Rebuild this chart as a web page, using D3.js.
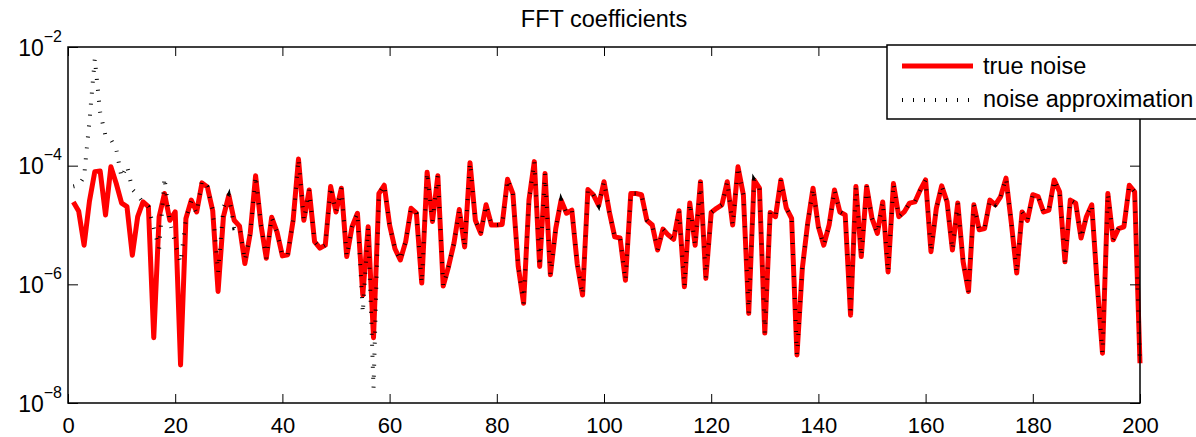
<!DOCTYPE html>
<html><head><meta charset="utf-8">
<script src="https://cdn.jsdelivr.net/npm/d3@7"></script>
<style>
body{margin:0;background:#fff}
svg{display:block}
text{font-family:"Liberation Sans",Arial,Helvetica,sans-serif;fill:#000}
</style>
</head><body>
<svg id="chart" width="1196" height="437"></svg>
<script>
const chartTitle = "FFT coefficients";
const seriesNames = ["true noise", "noise approximation"];
const xTickValues = [0, 20, 40, 60, 80, 100, 120, 140, 160, 180, 200];
const yTickValues = [1e-8, 1e-6, 1e-4, 1e-2];
const yTickExponents = ["\u22128", "\u22126", "\u22124", "\u22122"];

// index 1..200
const trueNoise = [
2.45e-5,1.70e-5,4.57e-6,2.51e-5,7.94e-5,8.13e-5,1.48e-5,9.55e-5,5.0e-5,2.34e-5,
2.04e-5,3.09e-6,1.38e-5,2.45e-5,2.04e-5,1.26e-7,1.38e-5,3.39e-5,1.20e-5,1.66e-5,
4.37e-8,1.29e-5,2.63e-5,1.66e-5,5.13e-5,4.37e-5,1.74e-5,7.59e-7,1.38e-5,3.16e-5,
1.20e-5,9.55e-6,2.24e-6,7.24e-6,6.76e-5,1.0e-5,2.75e-6,1.35e-5,7.59e-6,3.02e-6,
3.16e-6,1.20e-5,1.29e-4,1.20e-5,3.89e-5,5.25e-6,4.07e-6,4.57e-6,4.47e-5,1.66e-5,
4.17e-5,2.95e-6,9.33e-6,1.58e-5,6.61e-7,9.33e-6,1.26e-7,3.39e-5,4.68e-5,1.0e-5,
3.98e-6,2.57e-6,5.25e-6,1.91e-5,1.58e-5,1.05e-6,7.76e-5,1.15e-5,6.76e-5,9.33e-7,
2.0e-6,4.9e-6,1.82e-5,4.27e-6,1.12e-4,1.20e-5,7.24e-6,2.19e-5,1.0e-5,1.0e-5,
1.02e-5,5.89e-5,3.39e-5,2.0e-6,4.79e-7,2.63e-5,1.17e-4,2.0e-6,7.41e-5,1.45e-6,
8.71e-6,2.63e-5,1.58e-5,1.78e-5,2.24e-6,6.61e-7,3.98e-5,3.24e-5,2.14e-5,5.37e-5,
1.66e-5,6.31e-6,6.03e-6,1.17e-6,3.39e-5,3.39e-5,3.24e-5,1.20e-5,1.0e-5,3.80e-6,
8.51e-6,6.76e-6,5.75e-6,1.74e-5,9.12e-7,2.34e-5,4.57e-6,5.37e-5,1.26e-6,1.62e-5,
1.91e-5,2.19e-5,5.37e-5,1.0e-5,9.55e-5,3.24e-5,3.24e-7,5.75e-5,4.17e-5,1.51e-7,
1.62e-5,1.38e-5,5.75e-5,1.95e-5,1.29e-5,6.46e-8,1.86e-6,1.07e-5,4.17e-5,9.33e-6,
4.57e-6,1.0e-5,3.89e-5,1.66e-5,1.48e-5,3.02e-7,4.47e-5,2.95e-6,4.47e-5,1.29e-5,
7.24e-6,2.45e-5,1.62e-6,5.0e-5,1.38e-5,1.66e-5,2.34e-5,2.45e-5,3.89e-5,5.75e-5,
3.55e-6,1.91e-5,4.57e-5,2.45e-5,3.80e-6,2.34e-5,2.40e-6,7.59e-7,2.19e-5,8.32e-6,
8.71e-6,2.63e-5,2.19e-5,3.02e-5,6.17e-5,1.07e-5,1.55e-6,1.66e-5,1.20e-5,3.24e-5,
3.02e-5,1.66e-5,1.78e-5,5.75e-5,3.63e-5,2.40e-6,2.63e-5,2.34e-5,6.03e-6,1.38e-5,
2.19e-5,1.05e-6,6.92e-8,3.39e-5,5.62e-6,8.71e-6,9.33e-6,4.68e-5,3.63e-5,4.68e-8
];

const noiseApprox = [
4.47e-5,4.68e-5,6.46e-5,5.62e-4,6.31e-3,7.94e-4,3.16e-4,2.75e-4,1.91e-4,6.31e-5,
1.0e-4,3.98e-5,3.16e-5,2.40e-5,2.04e-5,8.91e-6,3.98e-6,6.31e-5,1.12e-5,5.01e-6,
2.29e-6,1.29e-5,2.51e-5,1.58e-5,5.62e-5,4.47e-5,1.78e-5,1.58e-6,2.0e-5,3.16e-5,
8.91e-6,9.33e-6,2.51e-6,7.24e-6,6.76e-5,1.0e-5,2.75e-6,1.35e-5,7.59e-6,3.02e-6,
3.16e-6,1.20e-5,1.29e-4,1.20e-5,3.89e-5,5.25e-6,4.07e-6,4.57e-6,4.47e-5,1.66e-5,
4.17e-5,2.95e-6,9.33e-6,1.58e-5,3.31e-7,9.33e-6,1.78e-8,3.39e-5,4.68e-5,1.0e-5,
3.98e-6,2.57e-6,5.25e-6,1.91e-5,1.58e-5,1.05e-6,7.76e-5,1.15e-5,6.76e-5,9.33e-7,
2.0e-6,4.9e-6,1.82e-5,4.27e-6,1.12e-4,1.20e-5,7.24e-6,2.19e-5,1.0e-5,1.0e-5,
1.02e-5,5.89e-5,3.39e-5,2.0e-6,4.79e-7,2.63e-5,1.17e-4,2.0e-6,7.41e-5,1.45e-6,
8.71e-6,2.63e-5,1.58e-5,1.78e-5,2.24e-6,6.61e-7,3.98e-5,3.24e-5,2.14e-5,5.37e-5,
1.66e-5,6.31e-6,6.03e-6,1.17e-6,3.39e-5,3.39e-5,3.24e-5,1.20e-5,1.0e-5,3.80e-6,
8.51e-6,6.76e-6,5.75e-6,1.74e-5,9.12e-7,2.34e-5,4.57e-6,5.37e-5,1.26e-6,1.62e-5,
1.91e-5,2.19e-5,5.37e-5,1.0e-5,9.55e-5,3.24e-5,3.24e-7,5.75e-5,4.17e-5,1.51e-7,
1.62e-5,1.38e-5,5.75e-5,1.95e-5,1.29e-5,6.46e-8,1.86e-6,1.07e-5,4.17e-5,9.33e-6,
4.57e-6,1.0e-5,3.89e-5,1.66e-5,1.48e-5,3.02e-7,4.47e-5,2.95e-6,4.47e-5,1.29e-5,
7.24e-6,2.45e-5,1.62e-6,5.0e-5,1.38e-5,1.66e-5,2.34e-5,2.45e-5,3.89e-5,5.75e-5,
3.55e-6,1.91e-5,4.57e-5,2.45e-5,3.80e-6,2.34e-5,2.40e-6,7.59e-7,2.19e-5,8.32e-6,
8.71e-6,2.63e-5,2.19e-5,3.02e-5,6.17e-5,1.07e-5,1.55e-6,1.66e-5,1.20e-5,3.24e-5,
3.02e-5,1.66e-5,1.78e-5,5.75e-5,3.63e-5,2.40e-6,2.63e-5,2.34e-5,6.03e-6,1.38e-5,
2.19e-5,1.05e-6,6.92e-8,3.39e-5,5.62e-6,8.71e-6,9.33e-6,4.68e-5,3.63e-5,4.68e-8
];

const svg = d3.select("#chart");
const L = 68, R = 1140, T = 47, B = 403;
const x = d3.scaleLinear().domain([0, 200]).range([L, R]);
const y = d3.scaleLog().domain([1e-8, 1e-2]).range([B, T]);

const line = d3.line().x((d, i) => x(i + 1)).y(d => y(d));

svg.append("path").datum(trueNoise).attr("d", line)
  .attr("fill", "none").attr("stroke", "#ff0000").attr("stroke-width", 5)
  .attr("stroke-linejoin", "round");
svg.append("path").datum(noiseApprox).attr("d", line)
  .attr("fill", "none").attr("stroke", "#000").attr("stroke-width", 4)
  .attr("stroke-dasharray", "1,10").attr("stroke-linecap", "butt");

// axes
const axStyle = g => { g.select(".domain").remove(); g.selectAll("line").attr("stroke", "#000").attr("stroke-width", 1); };
svg.append("g").attr("transform", `translate(0,${B})`)
  .call(d3.axisBottom(x).tickValues(xTickValues).tickSizeInner(-9).tickSizeOuter(0).tickPadding(14).tickFormat(d3.format("d")))
  .call(axStyle)
  .call(g => g.selectAll("text").attr("font-size", 22).attr("font-family", "Liberation Sans, Arial, sans-serif").attr("fill", "#000"));
svg.append("g").attr("transform", `translate(0,${T})`)
  .call(d3.axisTop(x).tickValues(xTickValues).tickSizeInner(-9).tickSizeOuter(0).tickFormat(""))
  .call(axStyle);
const leftAx = svg.append("g").attr("transform", `translate(${L},0)`)
  .call(d3.axisLeft(y).tickValues(yTickValues).tickSizeInner(-10).tickSizeOuter(0).tickFormat(""))
  .call(axStyle);
svg.append("g").attr("transform", `translate(${R},0)`)
  .call(d3.axisRight(y).tickValues(yTickValues).tickSizeInner(-10).tickSizeOuter(0).tickFormat(""))
  .call(axStyle);

leftAx.selectAll(".tick").each(function(d, i) {
  const t = d3.select(this).append("text")
    .attr("x", -6).attr("y", 8).attr("text-anchor", "end")
    .attr("font-size", 23).attr("fill", "#000");
  t.append("tspan").text("10");
  t.append("tspan").attr("dy", -14).attr("font-size", 16).text(yTickExponents[i]);
});

// frame
svg.append("rect").attr("x", L).attr("y", T).attr("width", R - L).attr("height", B - T)
  .attr("fill", "none").attr("stroke", "#000").attr("stroke-width", 1.5);

// title
svg.append("text").attr("x", (L + R) / 2).attr("y", 27).attr("text-anchor", "middle")
  .attr("font-size", 23.5).text(chartTitle);

// legend
const lg = svg.append("g");
lg.append("rect").attr("x", 887).attr("y", 45).attr("width", 340).attr("height", 74)
  .attr("fill", "#fff").attr("stroke", "#000").attr("stroke-width", 1.5);
lg.append("line").attr("x1", 902).attr("x2", 973).attr("y1", 66).attr("y2", 66)
  .attr("stroke", "#ff0000").attr("stroke-width", 5);
lg.append("line").attr("x1", 902).attr("x2", 973).attr("y1", 100).attr("y2", 100)
  .attr("stroke", "#000").attr("stroke-width", 4).attr("stroke-dasharray", "1,10");
lg.append("text").attr("x", 983).attr("y", 74).attr("font-size", 23.5).text(seriesNames[0]);
lg.append("text").attr("x", 983).attr("y", 107).attr("font-size", 23.5).text(seriesNames[1]);
</script>
</body></html>
